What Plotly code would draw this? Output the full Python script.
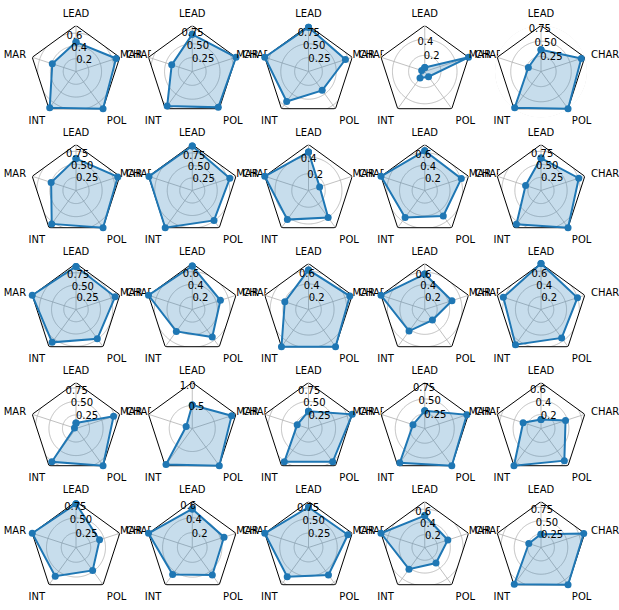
import plotly.graph_objects as go
import numpy as np

categories = ["LEAD", "CHAR", "POL", "INT", "MAR"]

lead_vals = [0.46, 0.67, 0.80, 0.05, 0.36,
             0.61, 0.89, 0.46, 0.63, 0.62,
             0.88, 0.69, 0.62, 0.57, 0.72,
             0.10, 0.51, 0.32, 0.30, 0.13,
             0.74, 0.52, 0.70, 0.50, 0.25]
char_vals = [0.66, 0.83, 0.70, 0.57, 0.70,
             0.84, 0.79, 0.14, 0.61, 0.76,
             0.84, 0.47, 0.68, 0.46, 0.60,
             0.73, 0.90, 0.85, 0.75, 0.37,
             0.42, 0.45, 0.72, 0.38, 0.84]
pol_vals = [0.72, 0.80, 0.42, 0.08, 0.76,
            0.88, 0.74, 0.40, 0.50, 0.88,
            0.74, 0.54, 0.72, 0.21, 0.55,
            0.85, 1.00, 0.76, 0.78, 0.57,
            0.48, 0.46, 0.59, 0.30, 0.86]
int_vals = [0.70, 0.77, 0.67, 0.10, 0.74,
            0.79, 0.92, 0.43, 0.53, 0.80,
            0.83, 0.43, 0.72, 0.43, 0.68,
            0.76, 0.97, 0.76, 0.72, 0.66,
            0.60, 0.45, 0.63, 0.42, 0.85]
mar_vals = [0.39, 0.39, 0.83, 0.04, 0.22,
            0.50, 0.91, 0.55, 0.73, 0.31,
            0.94, 0.73, 0.39, 0.74, 0.62,
            0.03, 0.14, 0.22, 0.21, 0.27,
            0.78, 0.62, 0.80, 0.72, 0.24]
radial_steps = [0.2, 0.25, 0.25, 0.2, 0.25,
                0.25, 0.25, 0.2, 0.2, 0.25,
                0.25, 0.2, 0.2, 0.2, 0.2,
                0.25, 0.5, 0.25, 0.25, 0.2,
                0.25, 0.2, 0.25, 0.2, 0.25]

W, H = 619, 610
R = 46
n = len(categories)
angles = [360.0 * k / n for k in range(n)]          # spoke angles (degrees)
GRID = "#b0b0b0"
fig = go.Figure()
layout_polars = {}
line_color = "#1f77b4"
circle_t = list(np.linspace(0, 360, 241))
pent_rev = [0.0] + angles[::-1][:-1] + [0.0]           # 0, 288, 216, 144, 72, 0
for i in range(25):
    row, col = divmod(i, 5)
    vals = [lead_vals[i], char_vals[i], pol_vals[i], int_vals[i], mar_vals[i]]
    rmax = max(vals)
    name = "polar" if i == 0 else f"polar{i+1}"
    sub = name
    th = angles + [angles[0]]
    step = radial_steps[i]
    tv = list(np.arange(step, rmax + 1e-9, step))
    dec = 2 if step == 0.25 else 1
    tt = [f"{v:.{dec}f}" for v in tv]

    # circular grid lines at the radial ticks (inside the frame)
    for t in tv:
        if t >= rmax * 0.995:
            continue
        fig.add_trace(go.Scatterpolar(r=[t] * len(circle_t), theta=circle_t, mode="lines",
                                      line=dict(color=GRID, width=0.8), subplot=sub,
                                      showlegend=False, hoverinfo="skip"))
    # white mask outside the pentagon frame (clips the circular grid to the frame)
    fig.add_trace(go.Scatterpolar(r=[rmax * 1.05] * len(circle_t) + [rmax] * len(pent_rev),
                                  theta=circle_t + pent_rev, mode="lines",
                                  line=dict(width=0, color="white"), fill="toself",
                                  fillcolor="white", subplot=sub, showlegend=False,
                                  hoverinfo="skip"))
    # spokes
    for a in angles:
        fig.add_trace(go.Scatterpolar(r=[0, rmax], theta=[a, a], mode="lines",
                                      line=dict(color=GRID, width=0.8), subplot=sub,
                                      showlegend=False, hoverinfo="skip"))
    # pentagon frame
    fig.add_trace(go.Scatterpolar(r=[rmax] * (n + 1), theta=th, mode="lines",
                                  line=dict(color="black", width=1),
                                  subplot=sub, showlegend=False, hoverinfo="skip"))
    fig.add_trace(go.Scatterpolar(r=vals + [vals[0]], theta=th, mode="lines+markers",
                                  fill="toself", fillcolor="rgba(31,119,180,0.25)",
                                  line=dict(color=line_color, width=2),
                                  marker=dict(size=7, color=line_color),
                                  subplot=sub, showlegend=False))
    cx = 76 + 116.25 * col
    cy = 71.5 + 119 * row
    layout_polars[name] = dict(
        domain=dict(x=[(cx - R) / W, (cx + R) / W], y=[1 - (cy + R) / H, 1 - (cy - R) / H]),
        bgcolor="white",
        radialaxis=dict(range=[0, rmax], tickvals=tv, ticktext=tt, showline=False,
                        showgrid=False, ticks="", angle=112.5,
                        tickangle=112.5, layer="above traces",
                        tickfont=dict(size=10, color="black", family="DejaVu Sans")),
        angularaxis=dict(direction="clockwise", rotation=90, showline=False, showgrid=False,
                         tickmode="array", tickvals=angles, ticktext=categories,
                         ticks="outside", ticklen=4, tickcolor="rgba(0,0,0,0)",
                         tickfont=dict(size=10, color="black", family="DejaVu Sans")),
    )

fig.update_layout(width=W, height=H, margin=dict(l=0, r=0, t=0, b=0),
                  paper_bgcolor="white", plot_bgcolor="white", **layout_polars)
fig.write_html("out.html")
